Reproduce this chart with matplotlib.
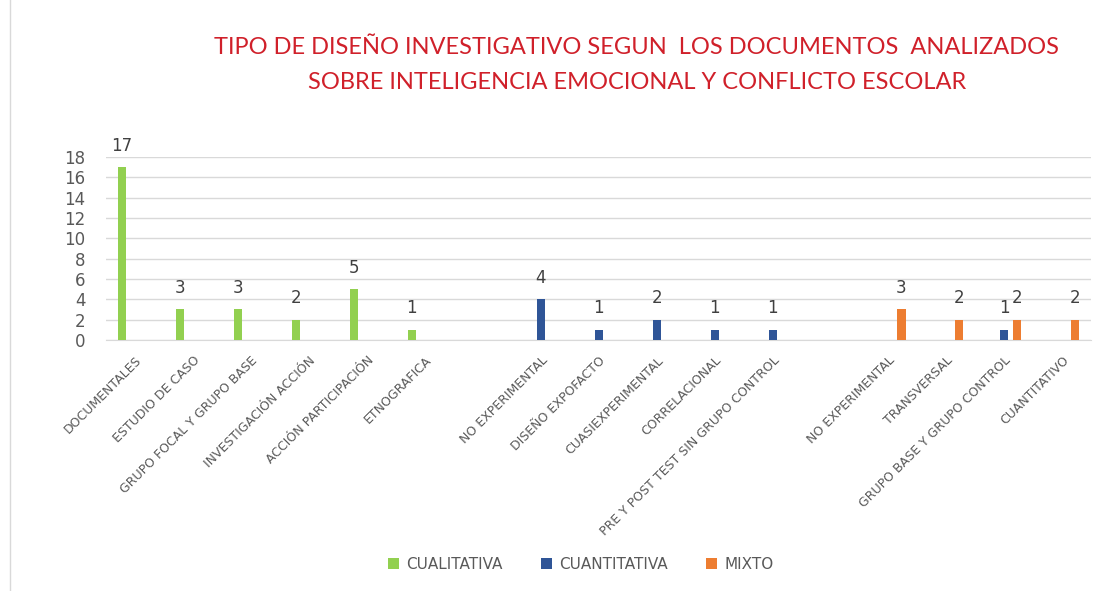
import matplotlib.pyplot as plt
import numpy as np
from matplotlib.patches import Rectangle

nan = np.nan
categorias = ['DOCUMENTALES', 'ESTUDIO DE CASO', 'GRUPO FOCAL Y GRUPO BASE',
              'INVESTIGACIÓN ACCIÓN', 'ACCIÓN PARTICIPACIÓN', 'ETNOGRAFICA', '',
              'NO EXPERIMENTAL', 'DISEÑO EXPOFACTO', 'CUASIEXPERIMENTAL',
              'CORRELACIONAL', 'PRE Y POST TEST SIN GRUPO CONTROL', '',
              'NO EXPERIMENTAL', 'TRANSVERSAL', 'GRUPO BASE Y GRUPO CONTROL',
              'CUANTITATIVO']
cualitativa = [17, 3, 3, 2, 5, 1, nan, nan, nan, nan, nan, nan, nan, nan, nan, nan, nan]
cuantitativa = [nan, nan, nan, nan, nan, nan, nan, 4, 1, 2, 1, 1, nan, nan, nan, 1, nan]
mixto = [nan, nan, nan, nan, nan, nan, nan, nan, nan, nan, nan, nan, nan, 3, 2, 2, 2]
series = ['CUALITATIVA', 'CUANTITATIVA', 'MIXTO']
colores = ['#92d050', '#2f5597', '#ed7d31']

fig = plt.figure(figsize=(11.17, 5.91), dpi=100)
ax = fig.add_axes([0.095, 0.4247, 0.882, 0.3097])

x = np.arange(len(categorias))
w = 0.14
off = 13 / 58
for k, (vals, nombre, c) in enumerate(zip([cualitativa, cuantitativa, mixto], series, colores)):
    pos = x + (k - 1) * off
    v = np.array(vals, dtype=float)
    ax.bar(pos, np.nan_to_num(v), width=w, color=c, label=nombre, zorder=3)
    for p, val in zip(pos, v):
        if not np.isnan(val):
            ax.annotate(f'{int(val)}', (p, val), xytext=(0, 9), textcoords='offset points',
                        ha='center', va='bottom', fontsize=12, color='#404040')

ax.set_xlim(-0.5, len(categorias) - 0.5)
ax.set_ylim(0, 18)
ax.set_yticks(range(0, 19, 2))
ax.grid(axis='y', color='#d9d9d9', linewidth=1, zorder=0)
for s in ['top', 'right', 'left']:
    ax.spines[s].set_visible(False)
ax.spines['bottom'].set_color('#d9d9d9')
ax.tick_params(axis='both', length=0, colors='#595959')
ax.tick_params(axis='y', labelsize=12, pad=15)
ax.set_xticks(x)
ax.set_xticklabels(categorias, rotation=45, ha='right', rotation_mode='anchor',
                   fontsize=9, color='#595959')
ax.tick_params(axis='x', pad=10)

titulo = ['TIPO DE DISEÑO INVESTIGATIVO SEGUN  LOS DOCUMENTOS  ANALIZADOS',
          'SOBRE INTELIGENCIA EMOCIONAL Y CONFLICTO ESCOLAR']
fig.text(0.57, 0.92, titulo[0], ha='center', va='center', fontsize=17,
         color='#d0202a', family='Lato')
fig.text(0.57, 0.86, titulo[1], ha='center', va='center', fontsize=17,
         color='#d0202a', family='Lato')

fig.legend(loc='center', bbox_to_anchor=(0.52, 0.045), ncol=3, frameon=False,
           fontsize=11, handlelength=0.7, handleheight=0.7, columnspacing=2.5,
           handletextpad=0.5, labelcolor='#595959')

fig.patches.append(Rectangle((0.009, -0.01), 1.2, 1.2, transform=fig.transFigure,
                             fill=False, edgecolor='#d9d9d9', linewidth=1))

fig.savefig('out.png', dpi=100)
